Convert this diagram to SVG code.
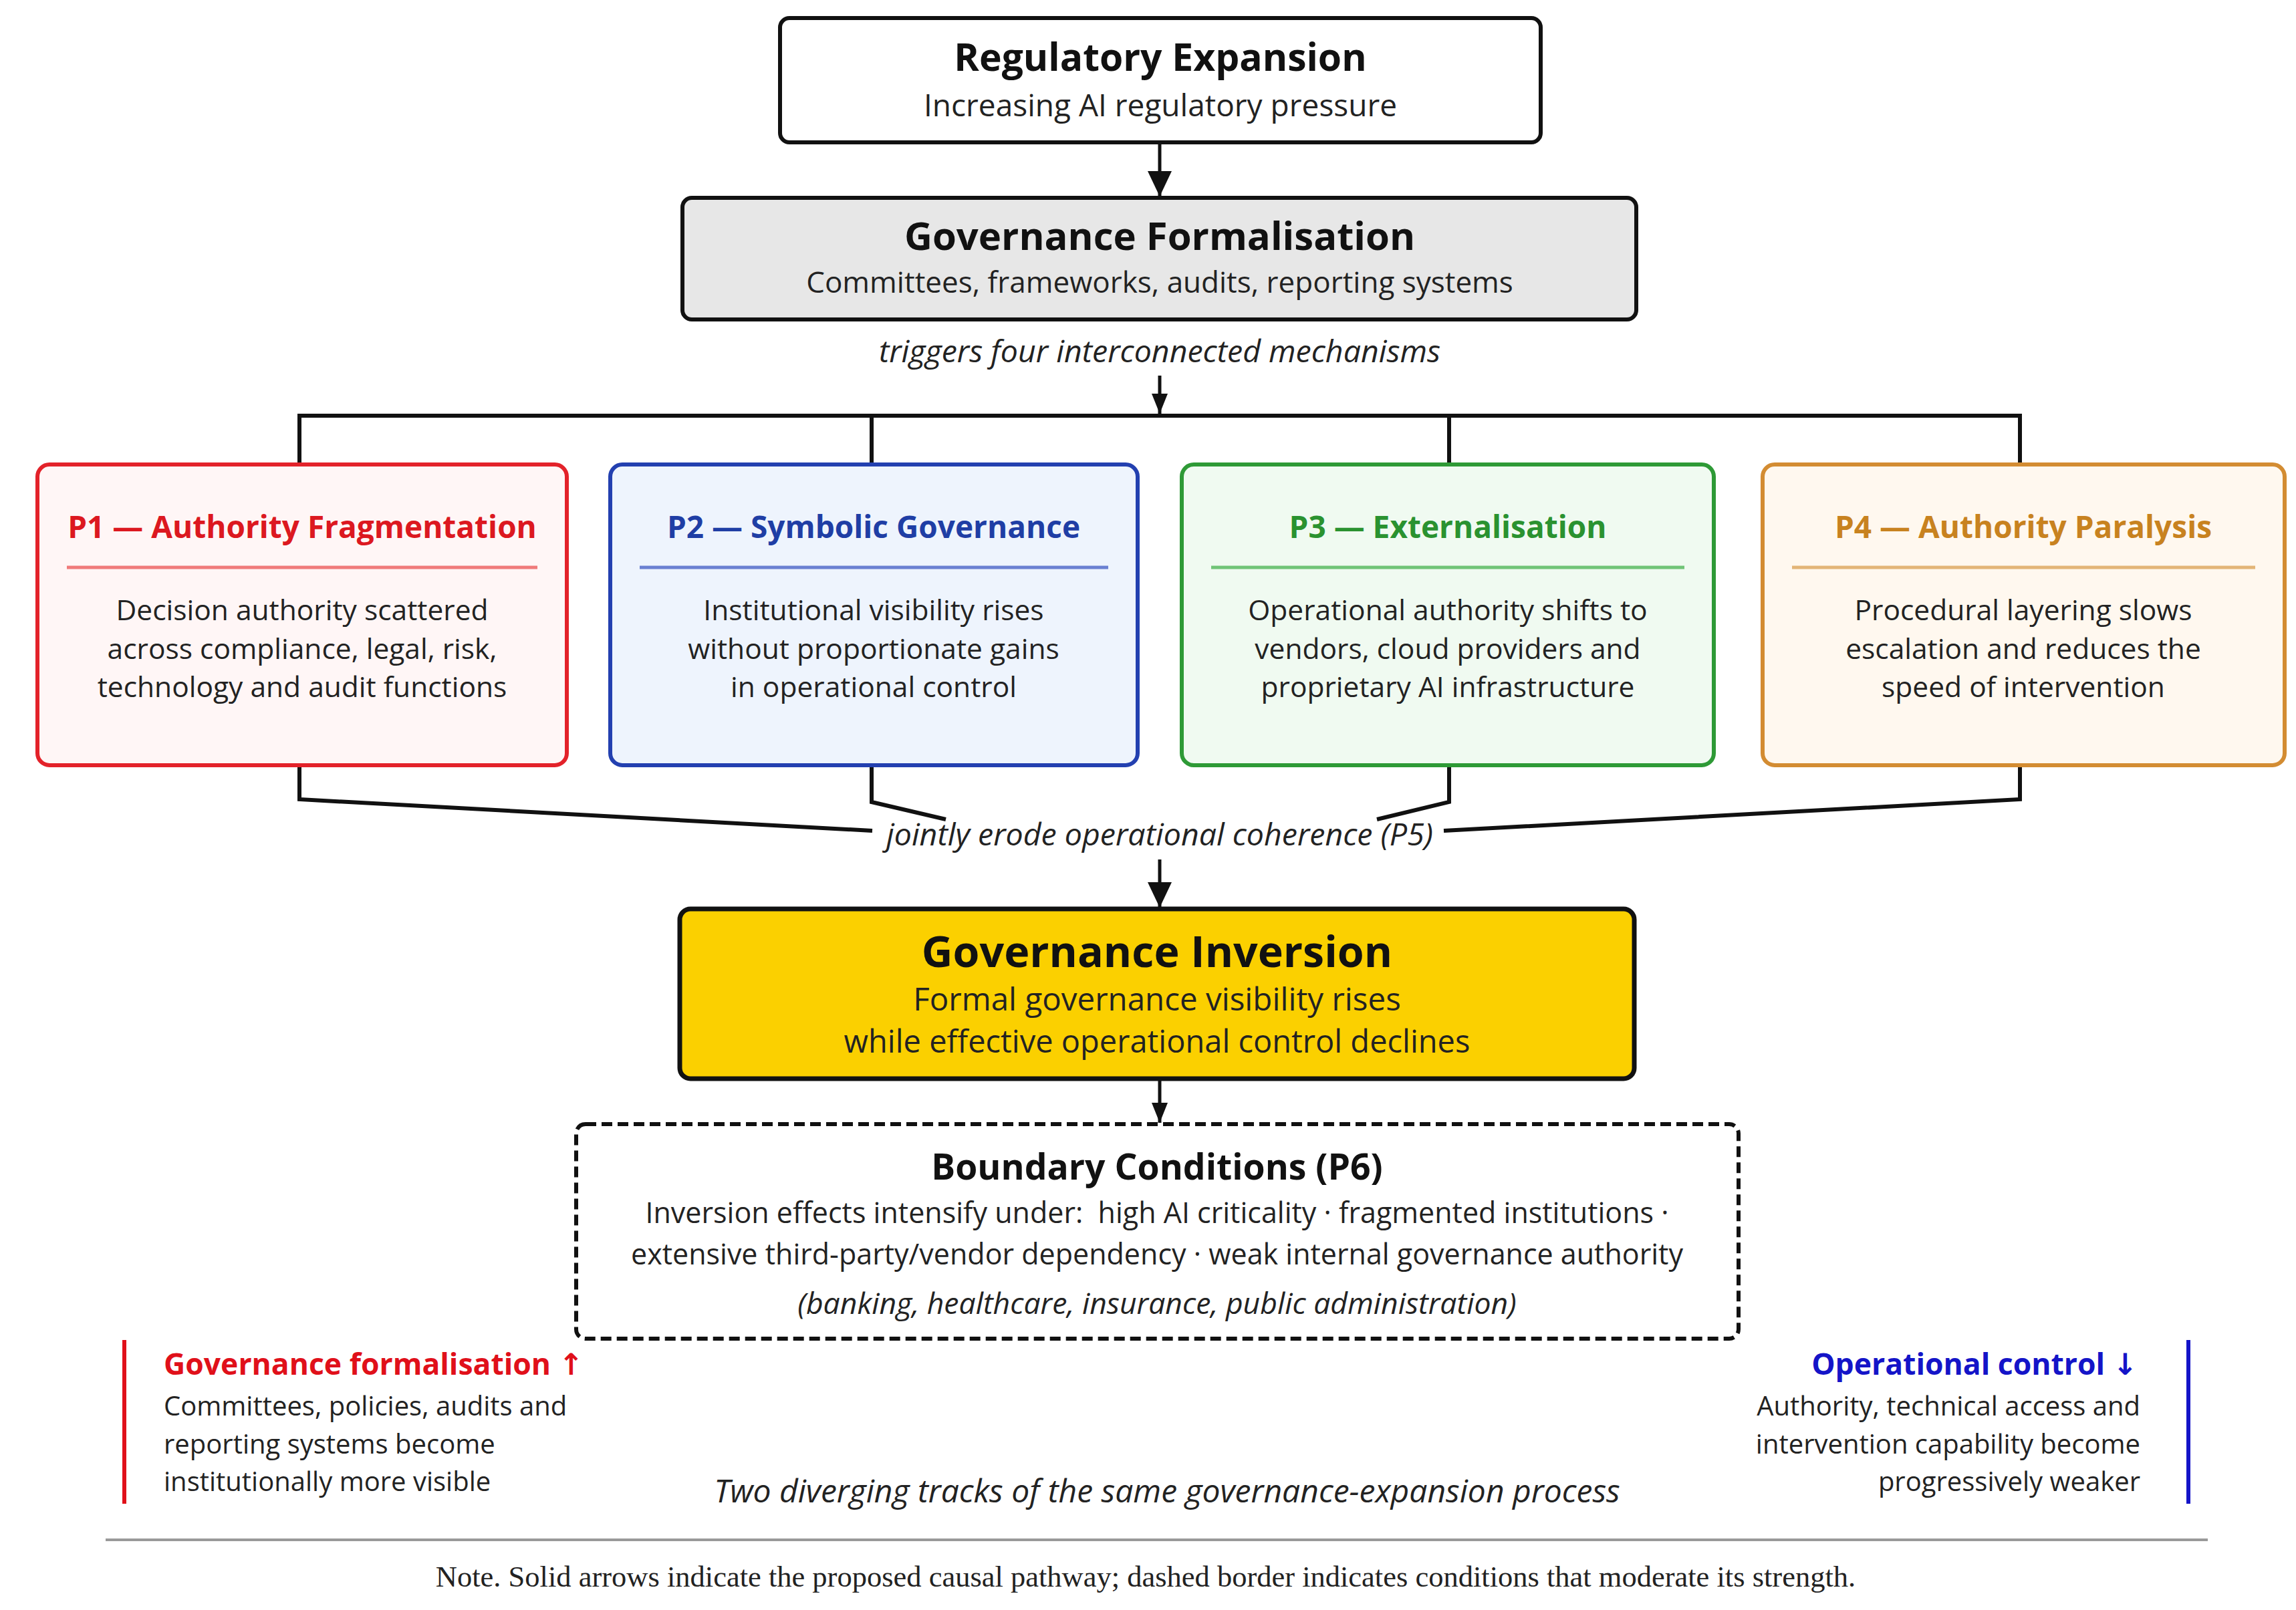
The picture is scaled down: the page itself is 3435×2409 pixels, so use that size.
<svg xmlns="http://www.w3.org/2000/svg" width="3435" height="2409" viewBox="0 0 3435 2409">
<defs>
<marker id="ah" markerUnits="userSpaceOnUse" markerWidth="40" markerHeight="46" refX="38" refY="20" orient="auto">
<path d="M0,2 L38,20 L0,38 Z" fill="#111"/>
</marker>
<marker id="ahs" markerUnits="userSpaceOnUse" markerWidth="32" markerHeight="30" refX="30" refY="14" orient="auto">
<path d="M0,2 L30,14 L0,26 Z" fill="#111"/>
</marker>
</defs>
<style>
text{font-family:"Open Sans","DejaVu Sans",sans-serif;fill:#222;}
.c{text-anchor:middle;}
.b{font-weight:700;fill:#111;}
.i{font-style:italic;}
.conn{fill:none;stroke:#111;stroke-width:6;stroke-linejoin:miter;}
.arr{fill:none;stroke:#111;stroke-width:5;}
.pb{stroke-width:6;}
.pt{font-size:46px;}
.body{font-size:42.5px;}
</style>
<rect width="3435" height="2409" fill="#ffffff"/>

<g id="connectors">
<line class="arr" x1="1735" y1="212" x2="1735" y2="294" marker-end="url(#ah)"/>
<line class="arr" x1="1735" y1="562" x2="1735" y2="619" marker-end="url(#ahs)"/>
<path class="conn" d="M448,697 V622 H3022 V697"/>
<path class="conn" d="M1304,622 V697"/>
<path class="conn" d="M2168,622 V697"/>
<path class="conn" d="M448,1145 V1196 L1305,1243"/>
<path class="conn" d="M1304,1145 V1200 L1415,1226"/>
<path class="conn" d="M2168,1145 V1200 L2060,1226"/>
<path class="conn" d="M3022,1145 V1196 L2160,1243"/>
<line class="arr" x1="1735" y1="1286" x2="1735" y2="1358" marker-end="url(#ah)"/>
<line class="arr" x1="1735" y1="1616" x2="1735" y2="1680" marker-end="url(#ahs)"/>
</g>

<g id="regulatory-expansion">
<rect x="1167" y="27" width="1138" height="186" rx="14" fill="#ffffff" stroke="#111" stroke-width="6"/>
<text class="c b" x="1736" y="106" font-size="57">Regulatory Expansion</text>
<text class="c" x="1736" y="174" font-size="46">Increasing AI regulatory pressure</text>
</g>

<g id="governance-formalisation">
<rect x="1021" y="296" width="1427" height="182" rx="14" fill="#e7e7e7" stroke="#111" stroke-width="6"/>
<text class="c b" x="1735" y="374" font-size="58">Governance Formalisation</text>
<text class="c" x="1735" y="438" font-size="44">Committees, frameworks, audits, reporting systems</text>
</g>

<g id="triggers-label">
<text class="c i" x="1735" y="542" font-size="46.5">triggers four interconnected mechanisms</text>
</g>

<g id="p1">
<rect class="pb" x="56" y="695" width="792" height="450" rx="18" fill="#fff6f6" stroke="#e3222a"/>
<text class="c b pt" x="452" y="805" style="fill:#dc1820">P1 — Authority Fragmentation</text>
<line x1="100" y1="849" x2="804" y2="849" stroke="#f07a7a" stroke-width="5"/>
<text class="c body" x="452" y="928">Decision authority scattered</text>
<text class="c body" x="452" y="986">across compliance, legal, risk,</text>
<text class="c body" x="452" y="1043">technology and audit functions</text>
</g>

<g id="p2">
<rect class="pb" x="913" y="695" width="789" height="450" rx="18" fill="#eef4fd" stroke="#2340b0"/>
<text class="c b pt" x="1307" y="805" style="fill:#1f3ea5">P2 — Symbolic Governance</text>
<line x1="957" y1="849" x2="1658" y2="849" stroke="#6a80d2" stroke-width="5"/>
<text class="c body" x="1307" y="928">Institutional visibility rises</text>
<text class="c body" x="1307" y="986">without proportionate gains</text>
<text class="c body" x="1307" y="1043">in operational control</text>
</g>

<g id="p3">
<rect class="pb" x="1768" y="695" width="796" height="450" rx="18" fill="#f0faf1" stroke="#2e9a36"/>
<text class="c b pt" x="2166" y="805" style="fill:#2a9230">P3 — Externalisation</text>
<line x1="1812" y1="849" x2="2520" y2="849" stroke="#70c477" stroke-width="5"/>
<text class="c body" x="2166" y="928">Operational authority shifts to</text>
<text class="c body" x="2166" y="986">vendors, cloud providers and</text>
<text class="c body" x="2166" y="1043">proprietary AI infrastructure</text>
</g>

<g id="p4">
<rect class="pb" x="2637" y="695" width="781" height="450" rx="18" fill="#fff8ef" stroke="#d38c32"/>
<text class="c b pt" x="3027" y="805" style="fill:#c8821f">P4 — Authority Paralysis</text>
<line x1="2681" y1="849" x2="3374" y2="849" stroke="#e3b577" stroke-width="5"/>
<text class="c body" x="3027" y="928">Procedural layering slows</text>
<text class="c body" x="3027" y="986">escalation and reduces the</text>
<text class="c body" x="3027" y="1043">speed of intervention</text>
</g>

<g id="p5-label">
<text class="c i" x="1735" y="1265" font-size="46.5">jointly erode operational coherence (P5)</text>
</g>

<g id="governance-inversion">
<rect x="1017" y="1360" width="1428" height="254" rx="16" fill="#fbd000" stroke="#111" stroke-width="7"/>
<text class="c b" x="1731" y="1447" font-size="64.5">Governance Inversion</text>
<text class="c" x="1731" y="1512" font-size="47.5">Formal governance visibility rises</text>
<text class="c" x="1731" y="1575" font-size="47">while effective operational control declines</text>
</g>

<g id="boundary-conditions">
<rect x="862" y="1682" width="1739" height="321" rx="14" fill="#ffffff" stroke="#111" stroke-width="6" stroke-dasharray="16 8"/>
<text class="c b" x="1731" y="1765" font-size="53.5">Boundary Conditions (P6)</text>
<text class="c" x="1731" y="1830" font-size="43" xml:space="preserve">Inversion effects intensify under:  high AI criticality · fragmented institutions ·</text>
<text class="c" x="1731" y="1892" font-size="43">extensive third-party/vendor dependency · weak internal governance authority</text>
<text class="c i" x="1731" y="1966" font-size="44.5">(banking, healthcare, insurance, public administration)</text>
</g>

<g id="track-formalisation">
<line x1="186" y1="2005" x2="186" y2="2250" stroke="#e0101a" stroke-width="6"/>
<text class="b" x="245" y="2057" font-size="44.5" style="fill:#e0101a">Governance formalisation ↑</text>
<text x="245" y="2118" font-size="40">Committees, policies, audits and</text>
<text x="245" y="2175" font-size="40">reporting systems become</text>
<text x="245" y="2231" font-size="40">institutionally more visible</text>
</g>

<g id="track-control">
<line x1="3274" y1="2005" x2="3274" y2="2250" stroke="#1414c8" stroke-width="6"/>
<text class="b" x="3198" y="2057" font-size="44.5" text-anchor="end" style="fill:#1414c8">Operational control ↓</text>
<text x="3202" y="2118" font-size="40" text-anchor="end">Authority, technical access and</text>
<text x="3202" y="2175" font-size="40" text-anchor="end">intervention capability become</text>
<text x="3202" y="2231" font-size="40" text-anchor="end">progressively weaker</text>
</g>

<g id="tracks-caption">
<text class="c i" x="1746" y="2248" font-size="48">Two diverging tracks of the same governance-expansion process</text>
</g>

<g id="note">
<line x1="158" y1="2304" x2="3303" y2="2304" stroke="#999" stroke-width="4"/>
<text class="c" x="1714" y="2374" font-size="44.5" style="font-family:'Liberation Serif','DejaVu Serif',serif">Note. Solid arrows indicate the proposed causal pathway; dashed border indicates conditions that moderate its strength.</text>
</g>
</svg>
